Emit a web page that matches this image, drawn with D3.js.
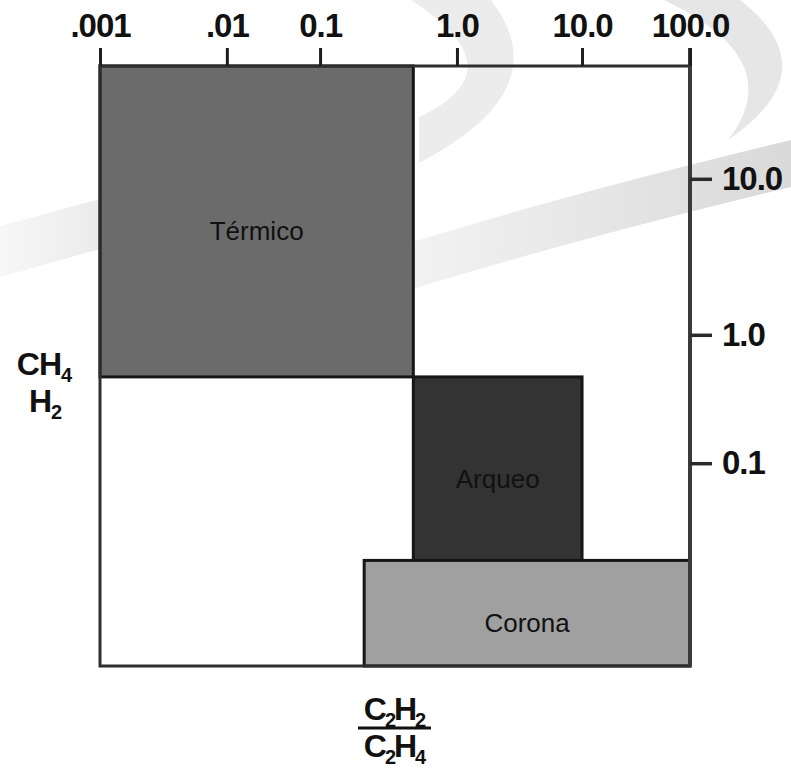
<!DOCTYPE html>
<html>
<head>
<meta charset="utf-8">
<script src="https://cdn.jsdelivr.net/npm/d3@7"></script>
<style>
  body { margin: 0; background: #fff; }
  svg { display: block; font-family: "Liberation Sans", Arial, sans-serif; }
</style>
</head>
<body>
<div id="chart"></div>
<script>
// ratio C2H2/C2H4 (top axis) and CH4/H2 (right axis)
const xTicks = [0.001, 0.01, 0.1, 1, 10, 100];
const xTickLabels = [".001", ".01", "0.1", "1.0", "10.0", "100.0"];
const yTicks = [10, 1, 0.1];
const yTickLabels = ["10.0", "1.0", "0.1"];
const yExtent = [100, 0.001];

// fault zones
const zoneNames = ["Térmico", "Arqueo", "Corona"];
const zoneX0 = [0.001, 0.48, 0.21];
const zoneX1 = [0.48, 10, 100];
const zoneY0 = [0.47, 0.011, 0.001];
const zoneY1 = [100, 0.47, 0.011];

const width = 791, height = 769;
const frame = { left: 100, right: 690, top: 66, bottom: 666 };
// the original axis is drawn by hand, decades are not evenly spaced
const xStops = [0, 0.215, 0.373, 0.605, 0.817, 1];
const yStops = [0, 0.188, 0.448, 0.662, 1];
const zoneFill = ["#6b6b6b", "#333333", "#a0a0a0"];

const zones = zoneNames.map((name, i) => ({
  name, x0: zoneX0[i], x1: zoneX1[i], y0: zoneY0[i], y1: zoneY1[i], fill: zoneFill[i]
}));

const x = d3.scaleLog()
  .domain(xTicks)
  .range(xStops.map(f => frame.left + f * (frame.right - frame.left)));

const y = d3.scaleLog()
  .domain([yExtent[0], ...yTicks, yExtent[1]])
  .range(yStops.map(f => frame.top + f * (frame.bottom - frame.top)));

const svg = d3.select("#chart").append("svg")
  .attr("width", width)
  .attr("height", height);

// faint watermark in the background
const defs = svg.append("defs");
const g1 = defs.append("linearGradient").attr("id", "band").attr("x1", 0).attr("x2", 1);
g1.append("stop").attr("offset", 0).attr("stop-color", "#f3f3f3");
g1.append("stop").attr("offset", 1).attr("stop-color", "#d9d9d9");
const g2 = defs.append("linearGradient").attr("id", "band2").attr("x1", 0).attr("x2", 1);
g2.append("stop").attr("offset", 0).attr("stop-color", "#f7f7f7");
g2.append("stop").attr("offset", 1).attr("stop-color", "#ebebeb");

const wm = svg.append("g");
wm.append("path")
  .attr("d", "M400,246 Q560,196 791,140 L791,187 Q560,243 400,293 Z")
  .attr("fill", "url(#band)");
wm.append("path")
  .attr("d", "M0,226 L100,199 L100,249 L0,277 Z")
  .attr("fill", "url(#band2)");
wm.append("path")
  .attr("d", "M411,0 L491,0 Q560,90 419,163 L419,117 Q520,70 411,0 Z")
  .attr("fill", "#ececec");
wm.append("path")
  .attr("d", "M664,0 L740,0 Q830,70 728,140 Q790,60 664,0 Z")
  .attr("fill", "#e6e6e6");

// zones
svg.append("g")
  .selectAll("rect")
  .data(zones)
  .join("rect")
  .attr("x", d => x(d.x0))
  .attr("y", d => y(d.y1))
  .attr("width", d => x(d.x1) - x(d.x0))
  .attr("height", d => y(d.y0) - y(d.y1))
  .attr("fill", d => d.fill)
  .attr("stroke", "#161616")
  .attr("stroke-width", 3);

svg.append("g")
  .selectAll("text")
  .data(zones)
  .join("text")
  .attr("x", d => (x(d.x0) + x(d.x1)) / 2)
  .attr("y", d => (y(d.y0) + y(d.y1)) / 2 + 19)
  .attr("text-anchor", "middle")
  .style("font-size", "26px")
  .attr("fill", "#111")
  .text(d => d.name);

// frame
svg.append("rect")
  .attr("x", frame.left)
  .attr("y", frame.top)
  .attr("width", frame.right - frame.left)
  .attr("height", frame.bottom - frame.top)
  .attr("fill", "none")
  .attr("stroke", "#2e2e2e")
  .attr("stroke-width", 3);
svg.append("line")
  .attr("x1", frame.right).attr("x2", frame.right)
  .attr("y1", frame.top - 18).attr("y2", frame.bottom)
  .attr("stroke", "#3a3a3a")
  .attr("stroke-width", 4);

// top axis
const topAxis = svg.append("g")
  .attr("transform", `translate(0,${frame.top})`)
  .call(d3.axisTop(x)
    .tickValues(xTicks)
    .tickSize(18)
    .tickPadding(11)
    .tickFormat((d, i) => xTickLabels[i]));
topAxis.select(".domain").remove();
topAxis.selectAll(".tick line").attr("stroke", "#1e1e1e").attr("stroke-width", 3);
topAxis.selectAll(".tick text")
  .attr("fill", "#111")
  .style("font-size", "33px")
  .style("font-weight", "bold")
  .style("letter-spacing", "-1px")
  .style("font-family", "'Liberation Sans', Arial, sans-serif");

// right axis
const rightAxis = svg.append("g")
  .attr("transform", `translate(${frame.right},0)`)
  .call(d3.axisRight(y)
    .tickValues(yTicks)
    .tickSize(22)
    .tickPadding(10)
    .tickFormat((d, i) => yTickLabels[i]));
rightAxis.select(".domain").remove();
rightAxis.selectAll(".tick line").attr("stroke", "#2a2a2a").attr("stroke-width", 3.5);
rightAxis.selectAll(".tick text")
  .attr("fill", "#111")
  .style("font-size", "33px")
  .style("font-weight", "bold")
  .style("letter-spacing", "-1px")
  .style("font-family", "'Liberation Sans', Arial, sans-serif");

// formula labels with subscripts
function formula(sel, parts) {
  let shift = 0;
  parts.forEach(([txt, sub]) => {
    sel.append("tspan").attr("dy", -shift).text(txt);
    shift = 0;
    if (sub) {
      sel.append("tspan")
        .style("font-size", "20px")
        .attr("dy", 7)
        .text(sub);
      shift = 7;
    }
  });
}

function label(xp, yp, spacing) {
  return svg.append("text")
    .attr("x", xp).attr("y", yp)
    .attr("text-anchor", "middle")
    .style("font-size", "32px").style("font-weight", "bold")
    .style("letter-spacing", spacing)
    .attr("fill", "#111");
}

formula(label(44, 375, "-1px"), [["CH", "4"]]);
formula(label(45, 412, "-1px"), [["H", "2"]]);

formula(label(394, 720, "-2px"), [["C", "2"], ["H", "2"]]);
svg.append("line")
  .attr("x1", 358).attr("x2", 431)
  .attr("y1", 728).attr("y2", 728)
  .attr("stroke", "#111").attr("stroke-width", 3);
formula(label(394, 757, "-2px"), [["C", "2"], ["H", "4"]]);
</script>
</body>
</html>
